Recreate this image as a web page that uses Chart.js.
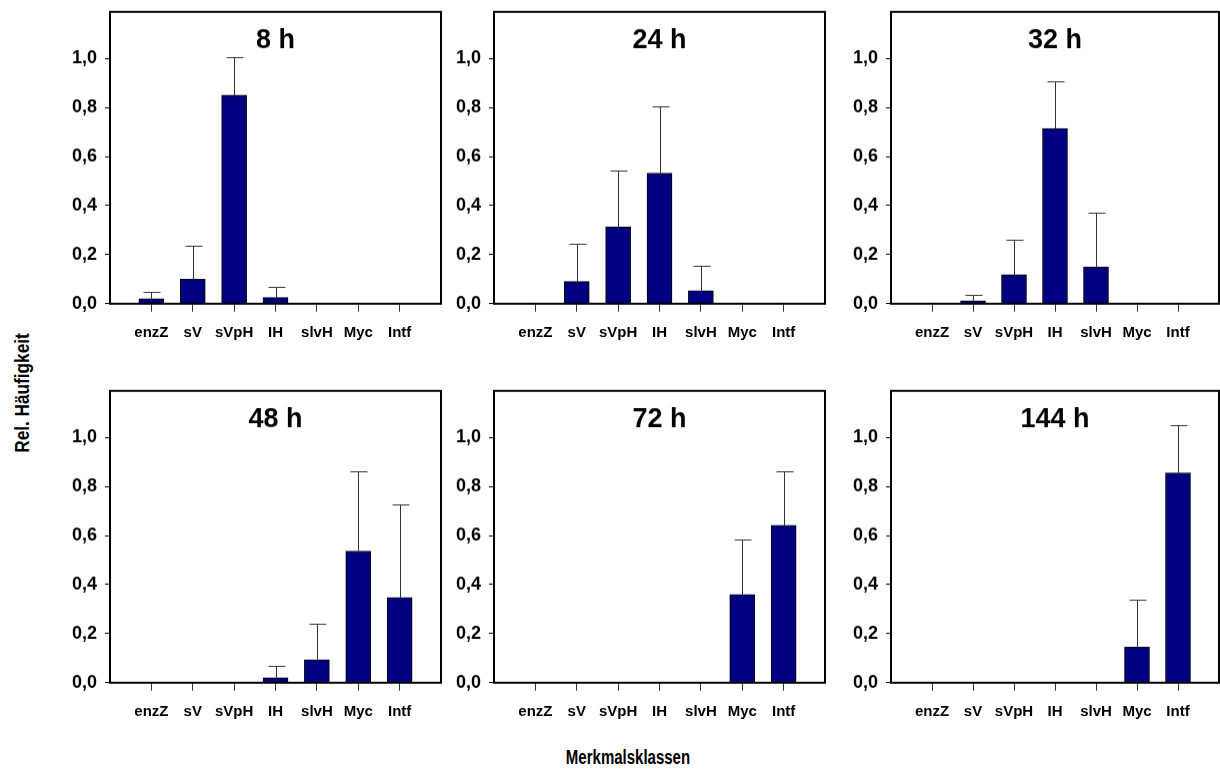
<!DOCTYPE html>
<html>
<head>
<meta charset="utf-8">
<script src="https://cdn.jsdelivr.net/npm/chart.js@4"></script>
<style>
  html, body { margin:0; padding:0; background:#fff; overflow:hidden; }
  #page { position:relative; width:1220px; height:778px; overflow:hidden; }
  canvas { position:absolute; }
  .axis-title { position:absolute; font-family:"Liberation Sans Narrow","Liberation Sans",Arial,sans-serif;
    font-weight:bold; font-size:20px; color:#000; white-space:nowrap; }
</style>
</head>
<body>
<div id="page">
  <div class="axis-title" id="ytitle">Rel. Häufigkeit</div>
  <div class="axis-title" id="xtitle">Merkmalsklassen</div>
</div>
<script>
// categories and panel titles
const categories = ["enzZ", "sV", "sVpH", "IH", "slvH", "Myc", "Intf"];
const panelTitles = ["8 h", "24 h", "32 h", "48 h", "72 h", "144 h"];

// mean relative frequencies per time point
const mean8h   = [0.02, 0.10, 0.85, 0.025, 0, 0, 0];
const mean24h  = [0, 0.091, 0.313, 0.533, 0.053, 0, 0];
const mean32h  = [0, 0.012, 0.118, 0.714, 0.15, 0, 0];
const mean48h  = [0, 0, 0, 0.02, 0.094, 0.537, 0.347];
const mean72h  = [0, 0, 0, 0, 0, 0.36, 0.642];
const mean144h = [0, 0, 0, 0, 0, 0.145, 0.856];

// standard deviations (upper error bars)
const sd8h   = [0.027, 0.135, 0.157, 0.042, 0, 0, 0];
const sd24h  = [0, 0.155, 0.23, 0.271, 0.101, 0, 0];
const sd32h  = [0, 0.026, 0.142, 0.195, 0.223, 0, 0];
const sd48h  = [0, 0, 0, 0.048, 0.148, 0.325, 0.379];
const sd72h  = [0, 0, 0, 0, 0, 0.223, 0.222];
const sd144h = [0, 0, 0, 0, 0, 0.193, 0.193];

const yTicks = [0, 0.2, 0.4, 0.6, 0.8, 1.0];

const means = [mean8h, mean24h, mean32h, mean48h, mean72h, mean144h];
const sds = [sd8h, sd24h, sd32h, sd48h, sd72h, sd144h];

// plot-area boxes on the page
const colLeft = [110, 494, 891];
const colRight = [441, 825, 1219];
const rowTop = [12, 391];
const rowBottom = [303, 682];

const AXIS_W = 60, AXIS_H = 40;
const narrow = '"Liberation Sans Narrow","Liberation Sans",Arial,sans-serif';

// frame + panel title
const framePlugin = {
  id: "frame",
  afterDraw(chart) {
    const { ctx, chartArea: a } = chart;
    ctx.save();
    ctx.strokeStyle = "#000";
    ctx.lineWidth = 2;
    ctx.strokeRect(a.left, a.top, a.right - a.left, a.bottom - a.top);
    ctx.fillStyle = "#000";
    ctx.font = "bold 27px " + narrow;
    ctx.textAlign = "center";
    ctx.textBaseline = "middle";
    ctx.fillText(chart.options.plugins.frame.title, (a.left + a.right) / 2, a.top + 29);
    ctx.restore();
  }
};

// upper error bars
const errorBarPlugin = {
  id: "errbars",
  afterDatasetsDraw(chart) {
    const sd = chart.options.plugins.errbars.sd;
    const meta = chart.getDatasetMeta(0);
    const y = chart.scales.y;
    const ctx = chart.ctx;
    ctx.save();
    ctx.strokeStyle = "#333";
    ctx.lineWidth = 1;
    meta.data.forEach((bar, i) => {
      const v = chart.data.datasets[0].data[i];
      const e = sd[i];
      if (v == null || !e) return;
      const x = Math.round(bar.x) + 0.5;
      const y0 = y.getPixelForValue(v);
      const y1 = Math.round(y.getPixelForValue(v + e)) + 0.5;
      ctx.beginPath();
      ctx.moveTo(x, y0);
      ctx.lineTo(x, y1);
      ctx.moveTo(x - 8, y1);
      ctx.lineTo(x + 9, y1);
      ctx.stroke();
    });
    ctx.restore();
  }
};

const page = document.getElementById("page");

means.forEach((m, p) => {
  const col = p % 3, row = Math.floor(p / 3);
  const plotW = colRight[col] - colLeft[col];
  const plotH = rowBottom[row] - rowTop[row];
  const cv = document.createElement("canvas");
  const w0 = plotW + AXIS_W + 20, h0 = plotH + AXIS_H + 20;
  cv.width = w0;
  cv.height = h0;
  cv.style.width = w0 + "px";
  cv.style.height = h0 + "px";
  page.appendChild(cv);

  const labels = ["", ...categories, ""];
  const data = [null, ...m, null];
  const sdPad = [0, ...sds[p], 0];

  const chart = new Chart(cv, {
    type: "bar",
    data: {
      labels,
      datasets: [{
        data,
        backgroundColor: "#000080",
        borderColor: "#000",
        borderWidth: 1,
        borderSkipped: "bottom",
        barThickness: 25
      }]
    },
    options: {
      responsive: false,
      maintainAspectRatio: false,
      animation: false,
      layout: { padding: 0 },
      plugins: {
        legend: { display: false },
        tooltip: { enabled: false },
        frame: { title: panelTitles[p] },
        errbars: { sd: sdPad }
      },
      scales: {
        x: {
          offset: false,
          afterFit: ax => { ax.height = AXIS_H; },
          border: { display: false },
          grid: {
            offset: false,
            drawOnChartArea: false,
            drawTicks: true,
            tickLength: 8,
            color: ctx => (ctx.tick && ctx.tick.label === "") ? "rgba(0,0,0,0)" : "#333",
            lineWidth: 1
          },
          ticks: {
            autoSkip: false,
            maxRotation: 0,
            minRotation: 0,
            padding: 12,
            color: "#000",
            font: { family: narrow, weight: "bold", size: 15 }
          }
        },
        y: {
          min: 0,
          max: 1.19,
          afterFit: ax => { ax.width = AXIS_W; },
          afterBuildTicks: ax => { ax.ticks = yTicks.map(v => ({ value: v })); },
          border: { display: false },
          grid: {
            drawOnChartArea: false,
            drawTicks: true,
            tickLength: 5,
            color: "#000",
            lineWidth: 1
          },
          ticks: {
            padding: 8,
            color: "#000",
            font: { family: '"Liberation Sans",Arial,sans-serif', weight: "bold", size: 18 },
            callback: v => v.toFixed(1).replace(".", ",")
          }
        }
      }
    },
    plugins: [framePlugin, errorBarPlugin]
  });

  // size the canvas so the plot area matches the target box, then place it
  let a = chart.chartArea;
  const w1 = w0 + (plotW - (a.right - a.left));
  const h1 = h0 + (plotH - (a.bottom - a.top));
  chart.resize(w1, h1);
  a = chart.chartArea;
  cv.style.left = (colLeft[col] - a.left) + "px";
  cv.style.top = (rowTop[row] - a.top) + "px";
});

// axis titles (condensed look)
const yt = document.getElementById("ytitle");
yt.style.left = "22px";
yt.style.top = "393px";
yt.style.transform = "translate(-50%,-50%) rotate(-90deg) scaleX(0.86)";
const xt = document.getElementById("xtitle");
xt.style.left = "628px";
xt.style.top = "757px";
xt.style.transform = "translate(-50%,-50%) scaleX(0.75)";
</script>
</body>
</html>
